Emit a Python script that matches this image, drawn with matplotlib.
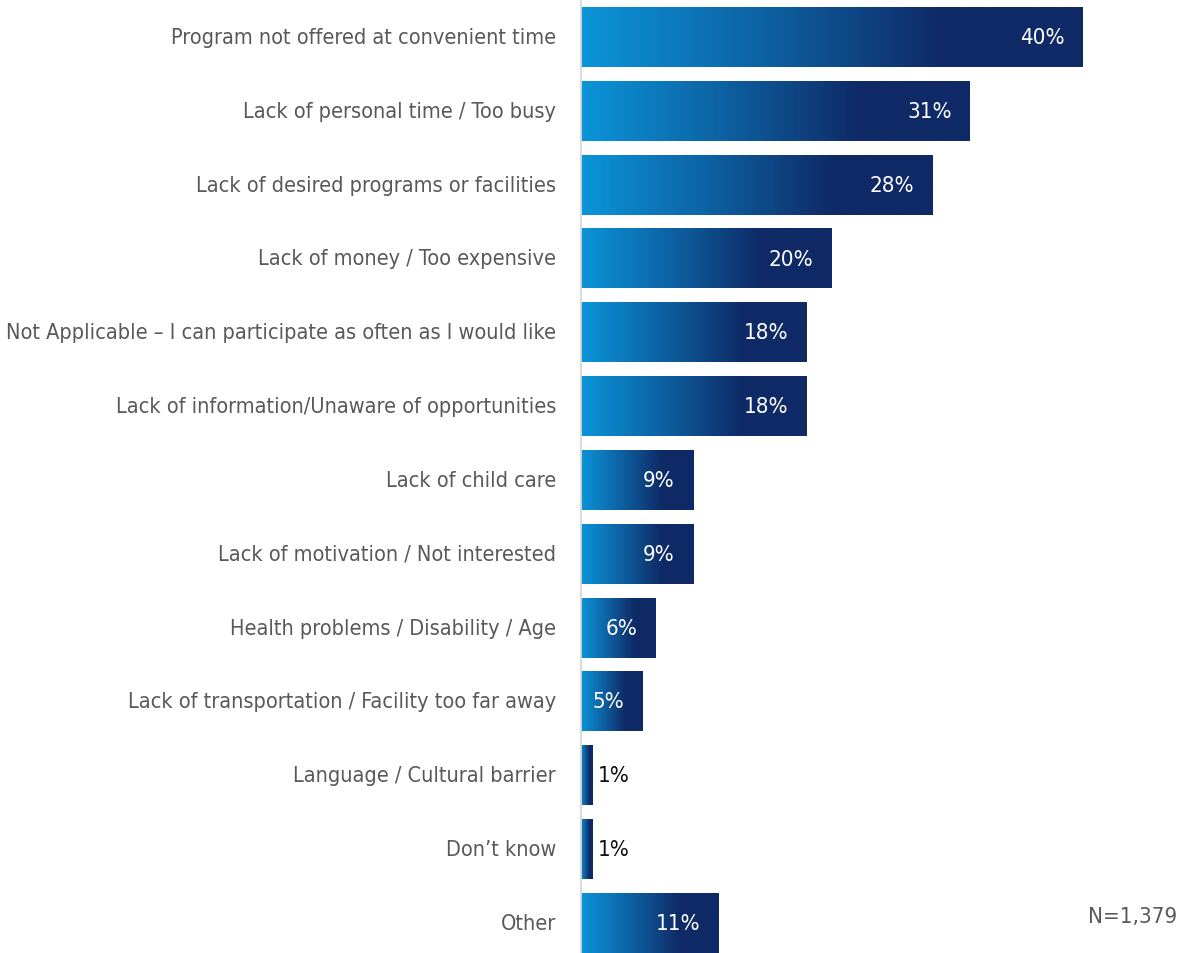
import numpy as np
import matplotlib
matplotlib.use("Agg")
import matplotlib.pyplot as plt
from matplotlib.colors import LinearSegmentedColormap

plt.rcParams['font.family'] = ['DejaVu Sans']
plt.rcParams['font.stretch'] = 'condensed'

# Survey results: reasons for not participating
reasons = [
    "Program not offered at convenient time",
    "Lack of personal time / Too busy",
    "Lack of desired programs or facilities",
    "Lack of money / Too expensive",
    "Not Applicable \u2013 I can participate as often as I would like",
    "Lack of information/Unaware of opportunities",
    "Lack of child care",
    "Lack of motivation / Not interested",
    "Health problems / Disability / Age",
    "Lack of transportation / Facility too far away",
    "Language / Cultural barrier",
    "Don\u2019t know",
    "Other",
]
percent = [40, 31, 28, 20, 18, 18, 9, 9, 6, 5, 1, 1, 11]
sample_note = "N=1,379"

LIGHT = "#0b95d9"
DARK = "#0f2a66"
blue_ramp = LinearSegmentedColormap.from_list("ramp", [LIGHT, "#0d62a3", DARK])

fig = plt.figure(figsize=(11.79, 9.54), dpi=100)
ax = fig.add_axes([580 / 1179, 0, 599 / 1179, 1])

bar_h = 0.81
ramp = np.clip(np.linspace(0, 1, 256) / 0.72, 0, 1).reshape(1, -1)

for i, (name, v) in enumerate(zip(reasons, percent)):
    ax.imshow(ramp, cmap=blue_ramp, vmin=0, vmax=1, aspect="auto",
              extent=(0, v, i + bar_h / 2, i - bar_h / 2), interpolation="bicubic")
    if v >= 3:
        ax.text(v - 1.45, i, f"{v}%", ha="right", va="center",
                color="white", fontsize=16)
    else:
        ax.text(v + 0.45, i, f"{v}%", ha="left", va="center",
                color="#111111", fontsize=16)
    fig.text(556 / 1179, 1 - (38 + i * 73.83) / 954, name, ha="right", va="center",
             color="#595959", fontsize=15.6)

ax.axvline(0, color="#d9d9d9", lw=2, zorder=5)
ax.set_xlim(0, 599 / 12.575)
ax.set_ylim(12 + 30 / 73.83, -38 / 73.83)
ax.axis("off")

fig.text(1177 / 1179, 1 - 917 / 954, sample_note, ha="right", va="center",
         color="#595959", fontsize=16)

fig.savefig("out.png", dpi=100)
